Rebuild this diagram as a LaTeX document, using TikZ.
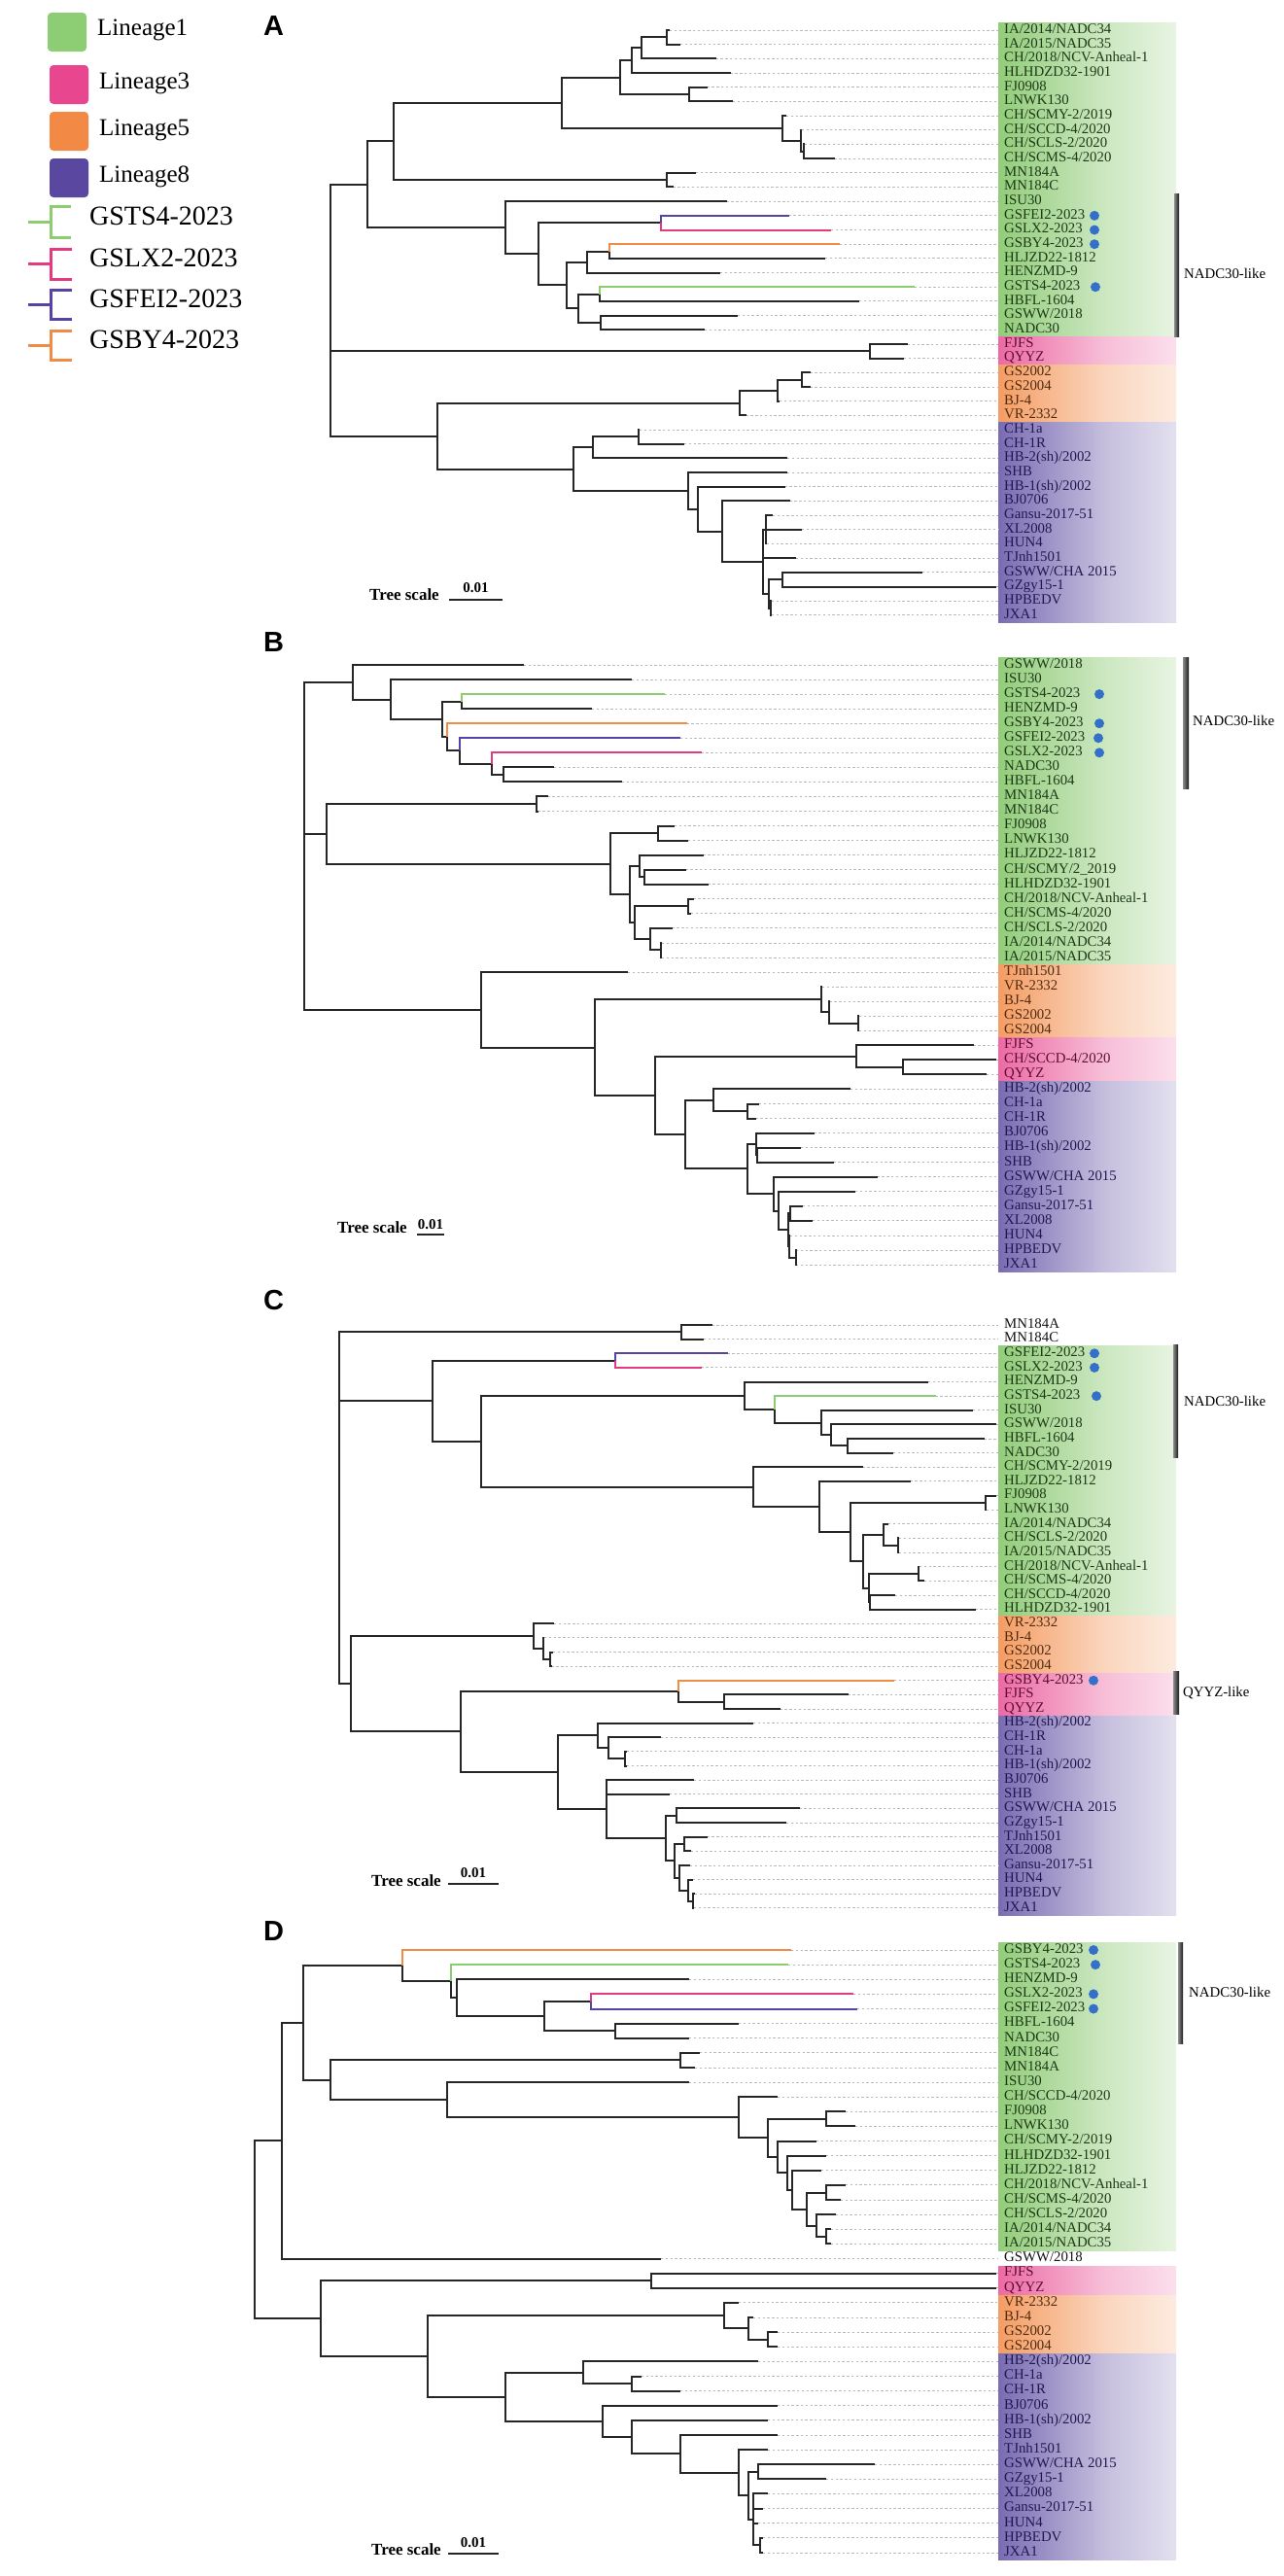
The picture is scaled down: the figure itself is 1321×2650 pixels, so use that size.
\documentclass[tikz,border=0pt]{standalone}
\usepackage{fontspec}
\setmainfont{Liberation Serif}
\newfontfamily\arialf{Liberation Sans}
\definecolor{lgreen}{RGB}{128,196,100}
\definecolor{lpink}{RGB}{232,70,142}
\definecolor{lorange}{RGB}{242,137,68}
\definecolor{lpurple}{RGB}{90,72,160}
\definecolor{sgreen}{RGB}{141,205,115}
\definecolor{bgreen}{RGB}{140,205,112}
\definecolor{bpink}{RGB}{228,58,128}
\definecolor{bpurple}{RGB}{88,66,165}
\definecolor{borange}{RGB}{240,140,70}
\definecolor{txg}{RGB}{28,58,22}
\definecolor{txp}{RGB}{95,12,52}
\definecolor{txo}{RGB}{82,42,12}
\definecolor{txv}{RGB}{32,24,82}
\definecolor{txk}{RGB}{20,20,20}
\definecolor{dotblue}{RGB}{52,112,200}
\pgfdeclarehorizontalshading{fgreen}{100bp}{color(0bp)=(lgreen); color(22bp)=(lgreen!90!white); color(55bp)=(lgreen!40!white); color(85bp)=(lgreen!8!white); color(100bp)=(white)}
\pgfdeclarehorizontalshading{fpink}{100bp}{color(0bp)=(lpink); color(22bp)=(lpink!85!white); color(55bp)=(lpink!35!white); color(85bp)=(lpink!8!white); color(100bp)=(white)}
\pgfdeclarehorizontalshading{forange}{100bp}{color(0bp)=(lorange); color(22bp)=(lorange!88!white); color(55bp)=(lorange!35!white); color(85bp)=(lorange!8!white); color(100bp)=(white)}
\pgfdeclarehorizontalshading{fpurple}{100bp}{color(0bp)=(lpurple); color(22bp)=(lpurple!85!white); color(55bp)=(lpurple!35!white); color(85bp)=(lpurple!8!white); color(100bp)=(white)}
\newcommand\labfont{\fontsize{14.8}{15}\selectfont}
\newcommand\leafnode[5]{%
  \coordinate (#1) at (#2,#3);
  \node[lab,text=#5] (#1L) at (1033,#3) {#4};
  \draw[leader] (#1) -- (#1L.west);}
\newcommand\brn[3][]{\draw[tree,#1] (#2) |- (#3);}
\newcommand\bluedot[3]{\node[bdot] (#1D) at (#2,#3) {};}
\newcommand\band[3]{\shade[shading=#1] (1027,#2) rectangle (1210,#3);}
\tikzset{
  tree/.style={line width=2pt, draw=black!85},
  cgreen/.style={draw=bgreen},
  cpink/.style={draw=bpink},
  cpurple/.style={draw=bpurple},
  corange/.style={draw=borange},
  leader/.style={draw=black!28, line width=0.9pt, dash pattern=on 2.4pt off 2.4pt, shorten >=6pt},
  lab/.style={anchor=west, inner sep=0pt, font=\labfont, text height=1.45ex, text depth=0pt},
  side/.style={anchor=west, inner sep=0pt, font=\labfont, text height=1.45ex, text depth=0pt, text=black},
  bdot/.style={circle, fill=dotblue, minimum size=10pt, inner sep=0pt},
  barshade/.style={left color=black!45, right color=black!90},
  swatch/.style={rounded corners=4pt, minimum size=40pt, inner sep=0pt},
  legtext/.style={anchor=west, inner sep=0pt, font=\fontsize{25}{25}\selectfont, text height=1.45ex, text depth=0pt},
  legbr/.style={anchor=west, inner sep=0pt, font=\fontsize{28}{28}\selectfont, text height=1.45ex, text depth=0pt},
  icon/.style={line width=3pt},
  plet/.style={anchor=base west, inner sep=0pt, font=\arialf\bfseries\fontsize{29}{29}\selectfont},
  tsc/.style={anchor=base west, inner sep=0pt, font=\bfseries\fontsize{17}{17}\selectfont},
  tsn/.style={anchor=base, inner sep=0pt, font=\bfseries\fontsize{15}{15}\selectfont},
  tsbar/.style={line width=2pt, black!85}
}
\begin{document}
\begin{tikzpicture}[x=1pt,y=-1pt]
\useasboundingbox (0,0) rectangle (1321,2650);
\fill[white] (0,0) rectangle (1321,2650);
% ---------------- legend
\node[swatch, fill=sgreen] (sw1) at (69,33) {};
\node[legtext] (lt1) at (100,33) {Lineage1};
\node[swatch, fill=lpink] (sw3) at (71,87) {};
\node[legtext] (lt3) at (102,88) {Lineage3};
\node[swatch, fill=lorange] (sw5) at (71,135) {};
\node[legtext] (lt5) at (102,136) {Lineage5};
\node[swatch, fill=lpurple] (sw8) at (71,183) {};
\node[legtext] (lt8) at (102,184) {Lineage8};
\draw[icon,bgreen] (29,228) -- (52,228) (73,212) -- (52,212) -- (52,244) -- (73,244);
\node[legbr] (li1) at (92,228) {GSTS4-2023};
\draw[icon,bpink] (29,271) -- (52,271) (74,256) -- (52,256) -- (52,287) -- (74,287);
\node[legbr] (li2) at (92,271) {GSLX2-2023};
\draw[icon,bpurple] (29,313) -- (52,313) (74,298) -- (52,298) -- (52,328) -- (74,328);
\node[legbr] (li3) at (92,313) {GSFEI2-2023};
\draw[icon,borange] (29,355) -- (52,355) (74,340) -- (52,340) -- (52,370) -- (74,370);
\node[legbr] (li4) at (92,355) {GSBY4-2023};
% ---------------- panel letters
\node[plet] (pA) at (271,36.5) {A};
\node[plet] (pB) at (271,670.5) {B};
\node[plet] (pC) at (271,1347.5) {C};
\node[plet] (pD) at (271,1996.5) {D};
% ---------------- tree scales
\node[tsc] (tsA) at (380,617) {Tree scale};
\node[tsn] (tnA) at (489.5,609) {0.01};
\coordinate (tbA1) at (462,617); \coordinate (tbA2) at (517,617);
\draw[tsbar] (tbA1) -- (tbA2);
\node[tsc] (tsB) at (347,1268) {Tree scale};
\node[tsn] (tnB) at (443,1264) {0.01};
\coordinate (tbB1) at (429,1270); \coordinate (tbB2) at (457,1270);
\draw[tsbar] (tbB1) -- (tbB2);
\node[tsc] (tsC) at (382,1940) {Tree scale};
\node[tsn] (tnC) at (487,1931) {0.01};
\coordinate (tbC1) at (461,1938); \coordinate (tbC2) at (513,1938);
\draw[tsbar] (tbC1) -- (tbC2);
\node[tsc] (tsD) at (382,2628) {Tree scale};
\node[tsn] (tnD) at (487,2620) {0.01};
\coordinate (tbD1) at (461,2627); \coordinate (tbD2) at (513,2627);
\draw[tsbar] (tbD1) -- (tbD2);

% ================= PANEL A
\begin{scope}[y=-14.68pt, yshift=-16.32pt]
\band{fgreen}{0.5}{22.5}
\band{fpink}{22.5}{24.5}
\band{forange}{24.5}{28.5}
\band{fpurple}{28.5}{42.5}
\shade[barshade] (1208,12.5) rectangle (1213,22.5);
\node[side] (nlA) at (1218,18.2) {NADC30-like};
\leafnode{Aa1}{689}{1}{IA/2014/NADC34}{txg}
\leafnode{Aa2}{700}{2}{IA/2015/NADC35}{txg}
\leafnode{Aa3}{736.5}{3}{CH/2018/NCV-Anheal-1}{txg}
\leafnode{Aa4}{751.5}{4}{HLHDZD32-1901}{txg}
\leafnode{Aa5}{727.5}{5}{FJ0908}{txg}
\leafnode{Aa6}{754}{6}{LNWK130}{txg}
\leafnode{Aa7}{809}{7}{CH/SCMY-2/2019}{txg}
\leafnode{Aa8}{825}{8}{CH/SCCD-4/2020}{txg}
\leafnode{Aa9}{828}{9}{CH/SCLS-2/2020}{txg}
\leafnode{Aa10}{858.5}{10}{CH/SCMS-4/2020}{txg}
\leafnode{Aa11}{716}{11}{MN184A}{txg}
\leafnode{Aa12}{692.5}{12}{MN184C}{txg}
\leafnode{Aa13}{747.5}{13}{ISU30}{txg}
\leafnode{Aa14}{811.5}{14}{GSFEI2-2023}{txg}
\leafnode{Aa15}{855}{15}{GSLX2-2023}{txg}
\leafnode{Aa16}{864}{16}{GSBY4-2023}{txg}
\leafnode{Aa17}{849}{17}{HLJZD22-1812}{txg}
\leafnode{Aa18}{741}{18}{HENZMD-9}{txg}
\leafnode{Aa19}{941}{19}{GSTS4-2023}{txg}
\leafnode{Aa20}{884}{20}{HBFL-1604}{txg}
\leafnode{Aa21}{759}{21}{GSWW/2018}{txg}
\leafnode{Aa22}{725}{22}{NADC30}{txg}
\leafnode{Aa23}{934}{23}{FJFS}{txp}
\leafnode{Aa24}{930}{24}{QYYZ}{txp}
\leafnode{Aa25}{833.5}{25}{GS2002}{txo}
\leafnode{Aa26}{833.5}{26}{GS2004}{txo}
\leafnode{Aa27}{802}{27}{BJ-4}{txo}
\leafnode{Aa28}{767.5}{28}{VR-2332}{txo}
\leafnode{Aa29}{658}{29}{CH-1a}{txv}
\leafnode{Aa30}{704}{30}{CH-1R}{txv}
\leafnode{Aa31}{810}{31}{HB-2(sh)/2002}{txv}
\leafnode{Aa32}{810}{32}{SHB}{txv}
\leafnode{Aa33}{807.5}{33}{HB-1(sh)/2002}{txv}
\leafnode{Aa34}{812.5}{34}{BJ0706}{txv}
\leafnode{Aa35}{795}{35}{Gansu-2017-51}{txv}
\leafnode{Aa36}{825}{36}{XL2008}{txv}
\leafnode{Aa37}{789}{37}{HUN4}{txv}
\leafnode{Aa38}{819}{38}{TJnh1501}{txv}
\leafnode{Aa39}{949}{39}{GSWW/CHA 2015}{txv}
\leafnode{Aa40}{1025}{40}{GZgy15-1}{txv}
\leafnode{Aa41}{794}{41}{HPBEDV}{txv}
\leafnode{Aa42}{794}{42}{JXA1}{txv}
\bluedot{Aa14}{1126}{14}\bluedot{Aa15}{1126}{15}\bluedot{Aa16}{1126}{16}\bluedot{Aa19}{1127}{19}
\coordinate (Ar) at (340,20.64);
\coordinate (An1) at (377.5,11.82);
\coordinate (An1a) at (405,8.797);
\coordinate (An1aa) at (577.5,6.094);
\coordinate (An1aaa) at (637.5,4.3125);
\coordinate (A790) at (650,3.125);
\coordinate (A810) at (660,2.25);
\coordinate (A862) at (686,1.5);
\coordinate (A908) at (709,5.5);
\coordinate (An1aab) at (805,7.875);
\coordinate (AM) at (824,8.75);
\coordinate (AM2) at (826.5,9.5);
\coordinate (AMN) at (686,11.5);
\coordinate (An1b) at (520,14.844);
\coordinate (An1bb) at (554,16.6875);
\coordinate (A850) at (680,14.5);
\coordinate (An1bbb) at (582.5,18.875);
\coordinate (A697) at (603.5,17.25);
\coordinate (A743) at (626.5,16.5);
\coordinate (A680) at (595,20.5);
\coordinate (A723) at (616.5,19.5);
\coordinate (A725) at (617.5,21.5);
\coordinate (AFJ) at (895,23.5);
\coordinate (An3) at (450,29.45);
\coordinate (A1012) at (761,27.125);
\coordinate (A1090) at (800,26.25);
\coordinate (A1140) at (825,25.5);
\coordinate (A670) at (590,31.77);
\coordinate (A710) at (610,30.25);
\coordinate (A803) at (656.5,29.5);
\coordinate (A905) at (707.5,33.28);
\coordinate (A925) at (717.5,34.5625);
\coordinate (A975) at (742.5,36.125);
\coordinate (A1060) at (785,38.25);
\coordinate (AP) at (787.5,36);
\coordinate (AQ) at (791,40.5);
\coordinate (AR) at (805,39.5);
\coordinate (AS) at (792.5,41.5);
\brn{Ar}{An1}\brn{Ar}{AFJ}\brn{Ar}{An3}
\brn{An1}{An1a}\brn{An1}{An1b}
\brn{An1a}{An1aa}\brn{An1a}{AMN}
\brn{An1aa}{An1aaa}\brn{An1aa}{An1aab}
\brn{An1aaa}{A790}\brn{An1aaa}{A908}
\brn{A790}{A810}\brn{A790}{Aa4}
\brn{A810}{A862}\brn{A810}{Aa3}
\brn{A862}{Aa1}\brn{A862}{Aa2}
\brn{A908}{Aa5}\brn{A908}{Aa6}
\brn{An1aab}{Aa7}\brn{An1aab}{AM}
\brn{AM}{Aa8}\brn{AM}{AM2}
\brn{AM2}{Aa9}\brn{AM2}{Aa10}
\brn{AMN}{Aa11}\brn{AMN}{Aa12}
\brn{An1b}{Aa13}\brn{An1b}{An1bb}
\brn{An1bb}{A850}\brn{An1bb}{An1bbb}
\brn[cpurple]{A850}{Aa14}\brn[cpink]{A850}{Aa15}
\brn{An1bbb}{A697}\brn{An1bbb}{A680}
\brn{A697}{A743}\brn{A697}{Aa18}
\brn[corange]{A743}{Aa16}\brn{A743}{Aa17}
\brn{A680}{A723}\brn{A680}{A725}
\brn[cgreen]{A723}{Aa19}\brn{A723}{Aa20}
\brn{A725}{Aa21}\brn{A725}{Aa22}
\brn{AFJ}{Aa23}\brn{AFJ}{Aa24}
\brn{An3}{A1012}\brn{An3}{A670}
\brn{A1012}{A1090}\brn{A1012}{Aa28}
\brn{A1090}{A1140}\brn{A1090}{Aa27}
\brn{A1140}{Aa25}\brn{A1140}{Aa26}
\brn{A670}{A710}\brn{A670}{A905}
\brn{A710}{A803}\brn{A710}{Aa31}
\brn{A803}{Aa29}\brn{A803}{Aa30}
\brn{A905}{Aa32}\brn{A905}{A925}
\brn{A925}{Aa33}\brn{A925}{A975}
\brn{A975}{Aa34}\brn{A975}{A1060}
\brn{A1060}{AP}\brn{A1060}{Aa38}\brn{A1060}{AQ}
\brn{AP}{Aa35}\brn{AP}{Aa36}\brn{AP}{Aa37}
\brn{AQ}{AR}\brn{AQ}{AS}
\brn{AR}{Aa39}\brn{AR}{Aa40}
\brn{AS}{Aa41}\brn{AS}{Aa42}
\end{scope}

% ================= PANEL B
\begin{scope}[y=-15.05pt, yshift=-668.95pt]
\band{fgreen}{0.5}{21.5}
\band{forange}{21.5}{26.5}
\band{fpink}{26.5}{29.5}
\band{fpurple}{29.5}{42.5}
\shade[barshade] (1217,0.5) rectangle (1223,9.5);
\node[side] (nlB) at (1227,4.9) {NADC30-like};
\leafnode{Bb1}{539}{1}{GSWW/2018}{txg}
\leafnode{Bb2}{650}{2}{ISU30}{txg}
\leafnode{Bb3}{684}{3}{GSTS4-2023}{txg}
\leafnode{Bb4}{609}{4}{HENZMD-9}{txg}
\leafnode{Bb5}{706.5}{5}{GSBY4-2023}{txg}
\leafnode{Bb6}{700}{6}{GSFEI2-2023}{txg}
\leafnode{Bb7}{721.5}{7}{GSLX2-2023}{txg}
\leafnode{Bb8}{570}{8}{NADC30}{txg}
\leafnode{Bb9}{640}{9}{HBFL-1604}{txg}
\leafnode{Bb10}{563.5}{10}{MN184A}{txg}
\leafnode{Bb11}{553.5}{11}{MN184C}{txg}
\leafnode{Bb12}{694}{12}{FJ0908}{txg}
\leafnode{Bb13}{708}{13}{LNWK130}{txg}
\leafnode{Bb14}{723.5}{14}{HLJZD22-1812}{txg}
\leafnode{Bb15}{705.5}{15}{CH/SCMY/2\_2019}{txg}
\leafnode{Bb16}{728.5}{16}{HLHDZD32-1901}{txg}
\leafnode{Bb17}{713.5}{17}{CH/2018/NCV-Anheal-1}{txg}
\leafnode{Bb18}{711}{18}{CH/SCMS-4/2020}{txg}
\leafnode{Bb19}{691.5}{19}{CH/SCLS-2/2020}{txg}
\leafnode{Bb20}{681}{20}{IA/2014/NADC34}{txg}
\leafnode{Bb21}{681}{21}{IA/2015/NADC35}{txg}
\leafnode{Bb22}{646}{22}{TJnh1501}{txo}
\leafnode{Bb23}{846}{23}{VR-2332}{txo}
\leafnode{Bb24}{853.5}{24}{BJ-4}{txo}
\leafnode{Bb25}{884}{25}{GS2002}{txo}
\leafnode{Bb26}{884}{26}{GS2004}{txo}
\leafnode{Bb27}{1001.5}{27}{FJFS}{txp}
\leafnode{Bb28}{1025}{28}{CH/SCCD-4/2020}{txp}
\leafnode{Bb29}{1015}{29}{QYYZ}{txp}
\leafnode{Bb30}{875}{30}{HB-2(sh)/2002}{txv}
\leafnode{Bb31}{781}{31}{CH-1a}{txv}
\leafnode{Bb32}{777.5}{32}{CH-1R}{txv}
\leafnode{Bb33}{837.5}{33}{BJ0706}{txv}
\leafnode{Bb34}{824}{34}{HB-1(sh)/2002}{txv}
\leafnode{Bb35}{857.5}{35}{SHB}{txv}
\leafnode{Bb36}{902.5}{36}{GSWW/CHA 2015}{txv}
\leafnode{Bb37}{880}{37}{GZgy15-1}{txv}
\leafnode{Bb38}{826}{38}{Gansu-2017-51}{txv}
\leafnode{Bb39}{836}{39}{XL2008}{txv}
\leafnode{Bb40}{813}{40}{HUN4}{txv}
\leafnode{Bb41}{819}{41}{HPBEDV}{txv}
\leafnode{Bb42}{819}{42}{JXA1}{txv}
\bluedot{Bb3}{1131}{3}\bluedot{Bb5}{1131}{5}\bluedot{Bb6}{1130}{6}\bluedot{Bb7}{1131}{7}
\coordinate (Br) at (312.5,13.38);
\coordinate (B1) at (362.5,2.18);
\coordinate (B1b) at (401.5,3.359);
\coordinate (B1c) at (455,4.71875);
\coordinate (B440) at (475,3.5);
\coordinate (B1d) at (460,5.9375);
\coordinate (B1e) at (472.5,6.875);
\coordinate (B1f) at (506,7.75);
\coordinate (B1g) at (517.5,8.5);
\coordinate (B2) at (336,12.547);
\coordinate (B593) at (551.5,10.5);
\coordinate (B2b) at (627.5,14.59);
\coordinate (B843) at (676.5,12.5);
\coordinate (B2c) at (647.5,16.6875);
\coordinate (B805) at (657.5,14.75);
\coordinate (B815) at (662.5,15.5);
\coordinate (B795) at (652.5,18.625);
\coordinate (B905) at (707.5,17.5);
\coordinate (B827) at (668.5,19.75);
\coordinate (B850) at (680,20.5);
\coordinate (B3) at (495,24.575);
\coordinate (B3b) at (611.5,27.15);
\coordinate (B1180) at (845,23.875);
\coordinate (B1195) at (852.5,24.75);
\coordinate (B1255) at (882.5,25.5);
\coordinate (B3c) at (674,30.425);
\coordinate (B1252) at (881,27.75);
\coordinate (B1348) at (929,28.5);
\coordinate (B900) at (705,33.1);
\coordinate (B958) at (734,30.75);
\coordinate (B1028) at (769,31.5);
\coordinate (B1027) at (768.5,35.45);
\coordinate (B1045) at (777.5,33.75);
\coordinate (B1047) at (778.5,34.5);
\coordinate (B1082) at (796,37.156);
\coordinate (B1092) at (801,38.3125);
\coordinate (B1112) at (811,39.625);
\coordinate (B1115) at (812.5,38.5);
\coordinate (B1113) at (811.5,40.75);
\coordinate (B1127) at (818.5,41.5);
\brn{Br}{B1}\brn{Br}{B2}\brn{Br}{B3}
\brn{B1}{Bb1}\brn{B1}{B1b}
\brn{B1b}{Bb2}\brn{B1b}{B1c}
\brn{B1c}{B440}\brn{B1c}{B1d}
\brn[cgreen]{B440}{Bb3}\brn{B440}{Bb4}
\brn[corange]{B1d}{Bb5}\brn{B1d}{B1e}
\brn[cpurple]{B1e}{Bb6}\brn{B1e}{B1f}
\brn[cpink]{B1f}{Bb7}\brn{B1f}{B1g}
\brn{B1g}{Bb8}\brn{B1g}{Bb9}
\brn{B2}{B593}\brn{B2}{B2b}
\brn{B593}{Bb10}\brn{B593}{Bb11}
\brn{B2b}{B843}\brn{B2b}{B2c}
\brn{B843}{Bb12}\brn{B843}{Bb13}
\brn{B2c}{B805}\brn{B2c}{B795}
\brn{B805}{Bb14}\brn{B805}{B815}
\brn{B815}{Bb15}\brn{B815}{Bb16}
\brn{B795}{B905}\brn{B795}{B827}
\brn{B905}{Bb17}\brn{B905}{Bb18}
\brn{B827}{Bb19}\brn{B827}{B850}
\brn{B850}{Bb20}\brn{B850}{Bb21}
\brn{B3}{Bb22}\brn{B3}{B3b}
\brn{B3b}{B1180}\brn{B3b}{B3c}
\brn{B1180}{Bb23}\brn{B1180}{B1195}
\brn{B1195}{Bb24}\brn{B1195}{B1255}
\brn{B1255}{Bb25}\brn{B1255}{Bb26}
\brn{B3c}{B1252}\brn{B3c}{B900}
\brn{B1252}{Bb27}\brn{B1252}{B1348}
\brn{B1348}{Bb28}\brn{B1348}{Bb29}
\brn{B900}{B958}\brn{B900}{B1027}
\brn{B958}{Bb30}\brn{B958}{B1028}
\brn{B1028}{Bb31}\brn{B1028}{Bb32}
\brn{B1027}{B1045}\brn{B1027}{B1082}
\brn{B1045}{Bb33}\brn{B1045}{B1047}
\brn{B1047}{Bb34}\brn{B1047}{Bb35}
\brn{B1082}{Bb36}\brn{B1082}{B1092}
\brn{B1092}{Bb37}\brn{B1092}{B1112}
\brn{B1112}{B1115}\brn{B1112}{B1113}
\brn{B1115}{Bb38}\brn{B1115}{Bb39}
\brn{B1113}{Bb40}\brn{B1113}{B1127}
\brn{B1127}{Bb41}\brn{B1127}{Bb42}
\end{scope}

% ================= PANEL C
\begin{scope}[y=-14.63pt, yshift=-1348.37pt]
\band{fgreen}{2.5}{21.5}
\band{forange}{21.5}{25.5}
\band{fpink}{25.5}{28.5}
\band{fpurple}{28.5}{42.5}
\shade[barshade] (1207,2.4) rectangle (1212,10.3);
\node[side] (nlC) at (1218,6.5) {NADC30-like};
\shade[barshade] (1207,25.4) rectangle (1213,28.4);
\node[side] (qlC) at (1217,26.9) {QYYZ-like};
\leafnode{Cc1}{732.5}{1}{MN184A}{txk}
\leafnode{Cc2}{724}{2}{MN184C}{txk}
\leafnode{Cc3}{748.5}{3}{GSFEI2-2023}{txg}
\leafnode{Cc4}{721.5}{4}{GSLX2-2023}{txg}
\leafnode{Cc5}{955}{5}{HENZMD-9}{txg}
\leafnode{Cc6}{962.5}{6}{GSTS4-2023}{txg}
\leafnode{Cc7}{1001}{7}{ISU30}{txg}
\leafnode{Cc8}{1025}{8}{GSWW/2018}{txg}
\leafnode{Cc9}{1012.5}{9}{HBFL-1604}{txg}
\leafnode{Cc10}{919}{10}{NADC30}{txg}
\leafnode{Cc11}{887.5}{11}{CH/SCMY-2/2019}{txg}
\leafnode{Cc12}{936.5}{12}{HLJZD22-1812}{txg}
\leafnode{Cc13}{1025}{13}{FJ0908}{txg}
\leafnode{Cc14}{1015}{14}{LNWK130}{txg}
\leafnode{Cc15}{914}{15}{IA/2014/NADC34}{txg}
\leafnode{Cc16}{925}{16}{CH/SCLS-2/2020}{txg}
\leafnode{Cc17}{925}{17}{IA/2015/NADC35}{txg}
\leafnode{Cc18}{946}{18}{CH/2018/NCV-Anheal-1}{txg}
\leafnode{Cc19}{951}{19}{CH/SCMS-4/2020}{txg}
\leafnode{Cc20}{921}{20}{CH/SCCD-4/2020}{txg}
\leafnode{Cc21}{1003.5}{21}{HLHDZD32-1901}{txg}
\leafnode{Cc22}{570}{22}{VR-2332}{txo}
\leafnode{Cc23}{560}{23}{BJ-4}{txo}
\leafnode{Cc24}{569}{24}{GS2002}{txo}
\leafnode{Cc25}{567.5}{25}{GS2004}{txo}
\leafnode{Cc26}{920}{26}{GSBY4-2023}{txp}
\leafnode{Cc27}{872.5}{27}{FJFS}{txp}
\leafnode{Cc28}{802.5}{28}{QYYZ}{txp}
\leafnode{Cc29}{775}{29}{HB-2(sh)/2002}{txv}
\leafnode{Cc30}{680}{30}{CH-1R}{txv}
\leafnode{Cc31}{645}{31}{CH-1a}{txv}
\leafnode{Cc32}{645}{32}{HB-1(sh)/2002}{txv}
\leafnode{Cc33}{714}{33}{BJ0706}{txv}
\leafnode{Cc34}{689}{34}{SHB}{txv}
\leafnode{Cc35}{822.5}{35}{GSWW/CHA 2015}{txv}
\leafnode{Cc36}{809}{36}{GZgy15-1}{txv}
\leafnode{Cc37}{727.5}{37}{TJnh1501}{txv}
\leafnode{Cc38}{711}{38}{XL2008}{txv}
\leafnode{Cc39}{710}{39}{Gansu-2017-51}{txv}
\leafnode{Cc40}{713}{40}{HUN4}{txv}
\leafnode{Cc41}{715}{41}{HPBEDV}{txv}
\leafnode{Cc42}{714}{42}{JXA1}{txv}
\bluedot{Cc3}{1126}{3}\bluedot{Cc4}{1126}{4}\bluedot{Cc6}{1128}{6}\bluedot{Cc26}{1125}{26}
\coordinate (Cr) at (349,13.87);
\coordinate (CMN) at (701,1.5);
\coordinate (C1) at (445,6.34);
\coordinate (C755) at (632.5,3.5);
\coordinate (C1b) at (495,9.18);
\coordinate (C1c) at (766,5.97);
\coordinate (C1e) at (796.5,6.9375);
\coordinate (C1f) at (845,7.875);
\coordinate (C1g) at (855,8.75);
\coordinate (C1233) at (871.5,9.5);
\coordinate (C1d) at (775,12.39);
\coordinate (C1h) at (842.5,13.78);
\coordinate (C1i) at (875,15.5625);
\coordinate (C1517) at (1013.5,13.5);
\coordinate (C1j) at (887.5,17.625);
\coordinate (C1308) at (909,15.75);
\coordinate (C1338) at (924,16.5);
\coordinate (C1278) at (894,19.5);
\coordinate (C1380) at (945,18.5);
\coordinate (C1280) at (895,20.5);
\coordinate (C2) at (361,26.24);
\coordinate (C588) at (549,22.875);
\coordinate (C607) at (558.5,23.75);
\coordinate (C622) at (566,24.5);
\coordinate (C2b) at (473.5,29.6);
\coordinate (C885) at (697.5,26.75);
\coordinate (C980) at (745,27.5);
\coordinate (C637) at (573.5,32.46);
\coordinate (C720) at (615,29.875);
\coordinate (C741) at (625.5,30.75);
\coordinate (C776) at (643,31.5);
\coordinate (C737) at (623.5,35.05);
\coordinate (C860) at (685,37.09);
\coordinate (C882) at (696,35.5);
\coordinate (C878) at (694,38.6875);
\coordinate (C897) at (703.5,37.5);
\coordinate (C887) at (698.5,39.875);
\coordinate (C905) at (707.5,40.75);
\coordinate (C915) at (712.5,41.5);
\brn{Cr}{CMN}\brn{Cr}{C1}\brn{Cr}{C2}
\brn{CMN}{Cc1}\brn{CMN}{Cc2}
\brn{C1}{C755}\brn{C1}{C1b}
\brn[cpurple]{C755}{Cc3}\brn[cpink]{C755}{Cc4}
\brn{C1b}{C1c}\brn{C1b}{C1d}
\brn{C1c}{Cc5}\brn{C1c}{C1e}
\brn[cgreen]{C1e}{Cc6}\brn{C1e}{C1f}
\brn{C1f}{Cc7}\brn{C1f}{C1g}
\brn{C1g}{Cc8}\brn{C1g}{C1233}
\brn{C1233}{Cc9}\brn{C1233}{Cc10}
\brn{C1d}{Cc11}\brn{C1d}{C1h}
\brn{C1h}{Cc12}\brn{C1h}{C1i}
\brn{C1i}{C1517}\brn{C1i}{C1j}
\brn{C1517}{Cc13}\brn{C1517}{Cc14}
\brn{C1j}{C1308}\brn{C1j}{C1278}
\brn{C1308}{Cc15}\brn{C1308}{C1338}
\brn{C1338}{Cc16}\brn{C1338}{Cc17}
\brn{C1278}{C1380}\brn{C1278}{C1280}
\brn{C1380}{Cc18}\brn{C1380}{Cc19}
\brn{C1280}{Cc20}\brn{C1280}{Cc21}
\brn{C2}{C588}\brn{C2}{C2b}
\brn{C588}{Cc22}\brn{C588}{C607}
\brn{C607}{Cc23}\brn{C607}{C622}
\brn{C622}{Cc24}\brn{C622}{Cc25}
\brn{C2b}{C885}\brn{C2b}{C637}
\brn[corange]{C885}{Cc26}\brn{C885}{C980}
\brn{C980}{Cc27}\brn{C980}{Cc28}
\brn{C637}{C720}\brn{C637}{C737}
\brn{C720}{Cc29}\brn{C720}{C741}
\brn{C741}{Cc30}\brn{C741}{C776}
\brn{C776}{Cc31}\brn{C776}{Cc32}
\brn{C737}{Cc33}\brn{C737}{Cc34}\brn{C737}{C860}
\brn{C860}{C882}\brn{C860}{C878}
\brn{C882}{Cc35}\brn{C882}{Cc36}
\brn{C878}{C897}\brn{C878}{C887}
\brn{C897}{Cc37}\brn{C897}{Cc38}
\brn{C887}{Cc39}\brn{C887}{C905}
\brn{C905}{Cc40}\brn{C905}{C915}
\brn{C915}{Cc41}\brn{C915}{Cc42}
\end{scope}

% ================= PANEL D
\begin{scope}[y=-15.12pt, yshift=-1990.88pt]
\band{fgreen}{0.5}{21.5}
\band{fpink}{22.5}{24.5}
\band{forange}{24.5}{28.5}
\band{fpurple}{28.5}{42.5}
\shade[barshade] (1212,0.5) rectangle (1217,7.4);
\node[side] (nlD) at (1223,4.0) {NADC30-like};
\leafnode{Dd1}{814}{1}{GSBY4-2023}{txg}
\leafnode{Dd2}{811}{2}{GSTS4-2023}{txg}
\leafnode{Dd3}{709}{3}{HENZMD-9}{txg}
\leafnode{Dd4}{878}{4}{GSLX2-2023}{txg}
\leafnode{Dd5}{882}{5}{GSFEI2-2023}{txg}
\leafnode{Dd6}{760}{6}{HBFL-1604}{txg}
\leafnode{Dd7}{709}{7}{NADC30}{txg}
\leafnode{Dd8}{720}{8}{MN184C}{txg}
\leafnode{Dd9}{715}{9}{MN184A}{txg}
\leafnode{Dd10}{709}{10}{ISU30}{txg}
\leafnode{Dd11}{800}{11}{CH/SCCD-4/2020}{txg}
\leafnode{Dd12}{870}{12}{FJ0908}{txg}
\leafnode{Dd13}{880}{13}{LNWK130}{txg}
\leafnode{Dd14}{840}{14}{CH/SCMY-2/2019}{txg}
\leafnode{Dd15}{850}{15}{HLHDZD32-1901}{txg}
\leafnode{Dd16}{845}{16}{HLJZD22-1812}{txg}
\leafnode{Dd17}{870}{17}{CH/2018/NCV-Anheal-1}{txg}
\leafnode{Dd18}{865}{18}{CH/SCMS-4/2020}{txg}
\leafnode{Dd19}{860}{19}{CH/SCLS-2/2020}{txg}
\leafnode{Dd20}{855}{20}{IA/2014/NADC34}{txg}
\leafnode{Dd21}{855}{21}{IA/2015/NADC35}{txg}
\leafnode{Dd22}{680}{22}{GSWW/2018}{txk}
\leafnode{Dd23}{1025}{23}{FJFS}{txp}
\leafnode{Dd24}{1025}{24}{QYYZ}{txp}
\leafnode{Dd25}{760}{25}{VR-2332}{txo}
\leafnode{Dd26}{775}{26}{BJ-4}{txo}
\leafnode{Dd27}{800}{27}{GS2002}{txo}
\leafnode{Dd28}{800}{28}{GS2004}{txo}
\leafnode{Dd29}{780}{29}{HB-2(sh)/2002}{txv}
\leafnode{Dd30}{660}{30}{CH-1a}{txv}
\leafnode{Dd31}{700}{31}{CH-1R}{txv}
\leafnode{Dd32}{800}{32}{BJ0706}{txv}
\leafnode{Dd33}{790}{33}{HB-1(sh)/2002}{txv}
\leafnode{Dd34}{800}{34}{SHB}{txv}
\leafnode{Dd35}{790}{35}{TJnh1501}{txv}
\leafnode{Dd36}{900}{36}{GSWW/CHA 2015}{txv}
\leafnode{Dd37}{850}{37}{GZgy15-1}{txv}
\leafnode{Dd38}{790}{38}{XL2008}{txv}
\leafnode{Dd39}{785}{39}{Gansu-2017-51}{txv}
\leafnode{Dd40}{780}{40}{HUN4}{txv}
\leafnode{Dd41}{785}{41}{HPBEDV}{txv}
\leafnode{Dd42}{785}{42}{JXA1}{txv}
\bluedot{Dd1}{1125}{1}\bluedot{Dd2}{1127}{2}\bluedot{Dd4}{1125}{4}\bluedot{Dd5}{1125}{5}
\coordinate (Dr) at (262,20);
\coordinate (DUU) at (290,13.98);
\coordinate (DU) at (312,5.96);
\coordinate (DT) at (414,2.06);
\coordinate (DT2) at (464,3.125);
\coordinate (DT3) at (470,4.25);
\coordinate (DT4) at (560,5.5);
\coordinate (DT5) at (608,4.5);
\coordinate (DT6) at (633,6.5);
\coordinate (DM) at (340,9.85);
\coordinate (DMN) at (700,8.5);
\coordinate (DM2) at (460,11.2);
\coordinate (DM3) at (760,12.4);
\coordinate (DM4) at (790,13.79);
\coordinate (DM5) at (850,12.5);
\coordinate (DM6) at (800,15.08);
\coordinate (DM7) at (810,16.16);
\coordinate (DM8) at (815,17.31);
\coordinate (DM9) at (830,18.625);
\coordinate (DM10) at (850,17.5);
\coordinate (DM11) at (840,19.75);
\coordinate (DM12) at (850,20.5);
\coordinate (DL) at (330,26.07);
\coordinate (DP) at (670,23.5);
\coordinate (DL2) at (440,28.64);
\coordinate (DO) at (745,25.875);
\coordinate (DO2) at (770,26.75);
\coordinate (DO3) at (790,27.5);
\coordinate (DV) at (520,31.41);
\coordinate (DV1) at (600,29.75);
\coordinate (DV1b) at (650,30.5);
\coordinate (DV2) at (620,33.07);
\coordinate (DV3) at (650,34.14);
\coordinate (DV4) at (700,35.28);
\coordinate (DV5) at (760,36.56);
\coordinate (DV6) at (770,38.125);
\coordinate (DV7) at (780,36.5);
\coordinate (DV8) at (775,39.75);
\coordinate (DV9) at (782,41.5);
\brn{Dr}{DUU}\brn{Dr}{DL}
\brn{DUU}{DU}\brn{DUU}{Dd22}
\brn{DU}{DT}\brn{DU}{DM}
\brn[corange]{DT}{Dd1}\brn{DT}{DT2}
\brn[cgreen]{DT2}{Dd2}\brn{DT2}{DT3}
\brn{DT3}{Dd3}\brn{DT3}{DT4}
\brn{DT4}{DT5}\brn{DT4}{DT6}
\brn[cpink]{DT5}{Dd4}\brn[cpurple]{DT5}{Dd5}
\brn{DT6}{Dd6}\brn{DT6}{Dd7}
\brn{DM}{DMN}\brn{DM}{DM2}
\brn{DMN}{Dd8}\brn{DMN}{Dd9}
\brn{DM2}{Dd10}\brn{DM2}{DM3}
\brn{DM3}{Dd11}\brn{DM3}{DM4}
\brn{DM4}{DM5}\brn{DM4}{DM6}
\brn{DM5}{Dd12}\brn{DM5}{Dd13}
\brn{DM6}{Dd14}\brn{DM6}{DM7}
\brn{DM7}{Dd15}\brn{DM7}{DM8}
\brn{DM8}{Dd16}\brn{DM8}{DM9}
\brn{DM9}{DM10}\brn{DM9}{DM11}
\brn{DM10}{Dd17}\brn{DM10}{Dd18}
\brn{DM11}{Dd19}\brn{DM11}{DM12}
\brn{DM12}{Dd20}\brn{DM12}{Dd21}
\brn{DL}{DP}\brn{DL}{DL2}
\brn{DP}{Dd23}\brn{DP}{Dd24}
\brn{DL2}{DO}\brn{DL2}{DV}
\brn{DO}{Dd25}\brn{DO}{DO2}
\brn{DO2}{Dd26}\brn{DO2}{DO3}
\brn{DO3}{Dd27}\brn{DO3}{Dd28}
\brn{DV}{DV1}\brn{DV}{DV2}
\brn{DV1}{Dd29}\brn{DV1}{DV1b}
\brn{DV1b}{Dd30}\brn{DV1b}{Dd31}
\brn{DV2}{Dd32}\brn{DV2}{DV3}
\brn{DV3}{Dd33}\brn{DV3}{DV4}
\brn{DV4}{Dd34}\brn{DV4}{DV5}
\brn{DV5}{Dd35}\brn{DV5}{DV6}
\brn{DV6}{DV7}\brn{DV6}{DV8}
\brn{DV7}{Dd36}\brn{DV7}{Dd37}
\brn{DV8}{Dd38}\brn{DV8}{Dd39}\brn{DV8}{Dd40}\brn{DV8}{DV9}
\brn{DV9}{Dd41}\brn{DV9}{Dd42}
\end{scope}
\end{tikzpicture}
\end{document}
